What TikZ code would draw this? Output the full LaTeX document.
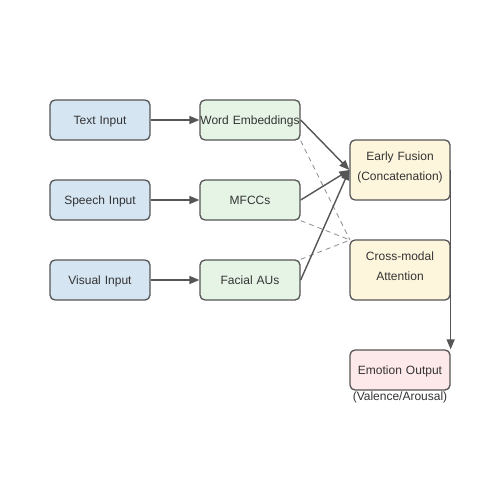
\documentclass[tikz,border=0pt]{standalone}
\usepackage{fontspec}
\setmainfont{Liberation Sans}
\usetikzlibrary{arrows.meta}
\definecolor{inblue}{HTML}{D5E5F2}
\definecolor{ingreen}{HTML}{E6F4E6}
\definecolor{inyellow}{HTML}{FDF6DD}
\definecolor{inpink}{HTML}{FDE8EA}
\definecolor{stroke}{HTML}{555555}
\definecolor{txt}{HTML}{333333}
\tikzset{
  box/.style={draw=stroke, line width=1.3pt, rounded corners=5pt, minimum width=100pt, text width=100pt, align=center, inner sep=0pt, font=\fontsize{12}{20}\selectfont, text=txt, text height=9pt, text depth=0pt},
  twoline/.style={minimum height=60pt, text depth=28.4pt},
  arr/.style={draw=stroke, line width=1.4pt, -{Triangle[length=10pt,width=8pt]}},
  dsh/.style={draw=gray!90, line width=0.8pt, dash pattern=on 5pt off 4pt},
}
\begin{document}
\begin{tikzpicture}[x=1pt,y=-1pt]
\useasboundingbox (0,0) rectangle (500,500);
\node[box, fill=inblue, minimum height=40pt] (ti) at (100,120) {Text Input};
\node[box, fill=inblue, minimum height=40pt] (si) at (100,200) {Speech Input};
\node[box, fill=inblue, minimum height=40pt] (vi) at (100,280) {Visual Input};
\node[box, fill=ingreen, minimum height=40pt] (we) at (250,120) {Word Embeddings};
\node[box, fill=ingreen, minimum height=40pt] (mf) at (250,200) {MFCCs};
\node[box, fill=ingreen, minimum height=40pt] (fa) at (250,280) {Facial AUs};
\node[box, twoline, fill=inyellow] (ef) at (400,170) {Early Fusion\\(Concatenation)};
\node[box, twoline, fill=inyellow] (cm) at (400,270) {Cross-modal\\Attention};
\node[box, fill=inpink, minimum height=40pt] (eo) at (400,370) {Emotion Output};
\node[font=\fontsize{12}{14}\selectfont, text=txt, inner sep=0pt, text height=9pt, text depth=0pt] (va) at (400,396) {(Valence/Arousal)};
\coordinate (cmin) at (350,240);
\draw[arr] (ti) -- (we);
\draw[arr] (si) -- (mf);
\draw[arr] (vi) -- (fa);
\draw[dsh] (we.south east) -- (cmin);
\draw[dsh] (mf.south east) -- (cmin);
\draw[dsh] (fa.north east) -- (cmin);
\draw[arr] (we.east) -- (ef.west);
\draw[arr] (mf.east) -- (ef.west);
\draw[arr] (fa.east) -- (ef.west);
\draw[arr] (ef.east) -- (eo.north east);
\end{tikzpicture}
\end{document}
